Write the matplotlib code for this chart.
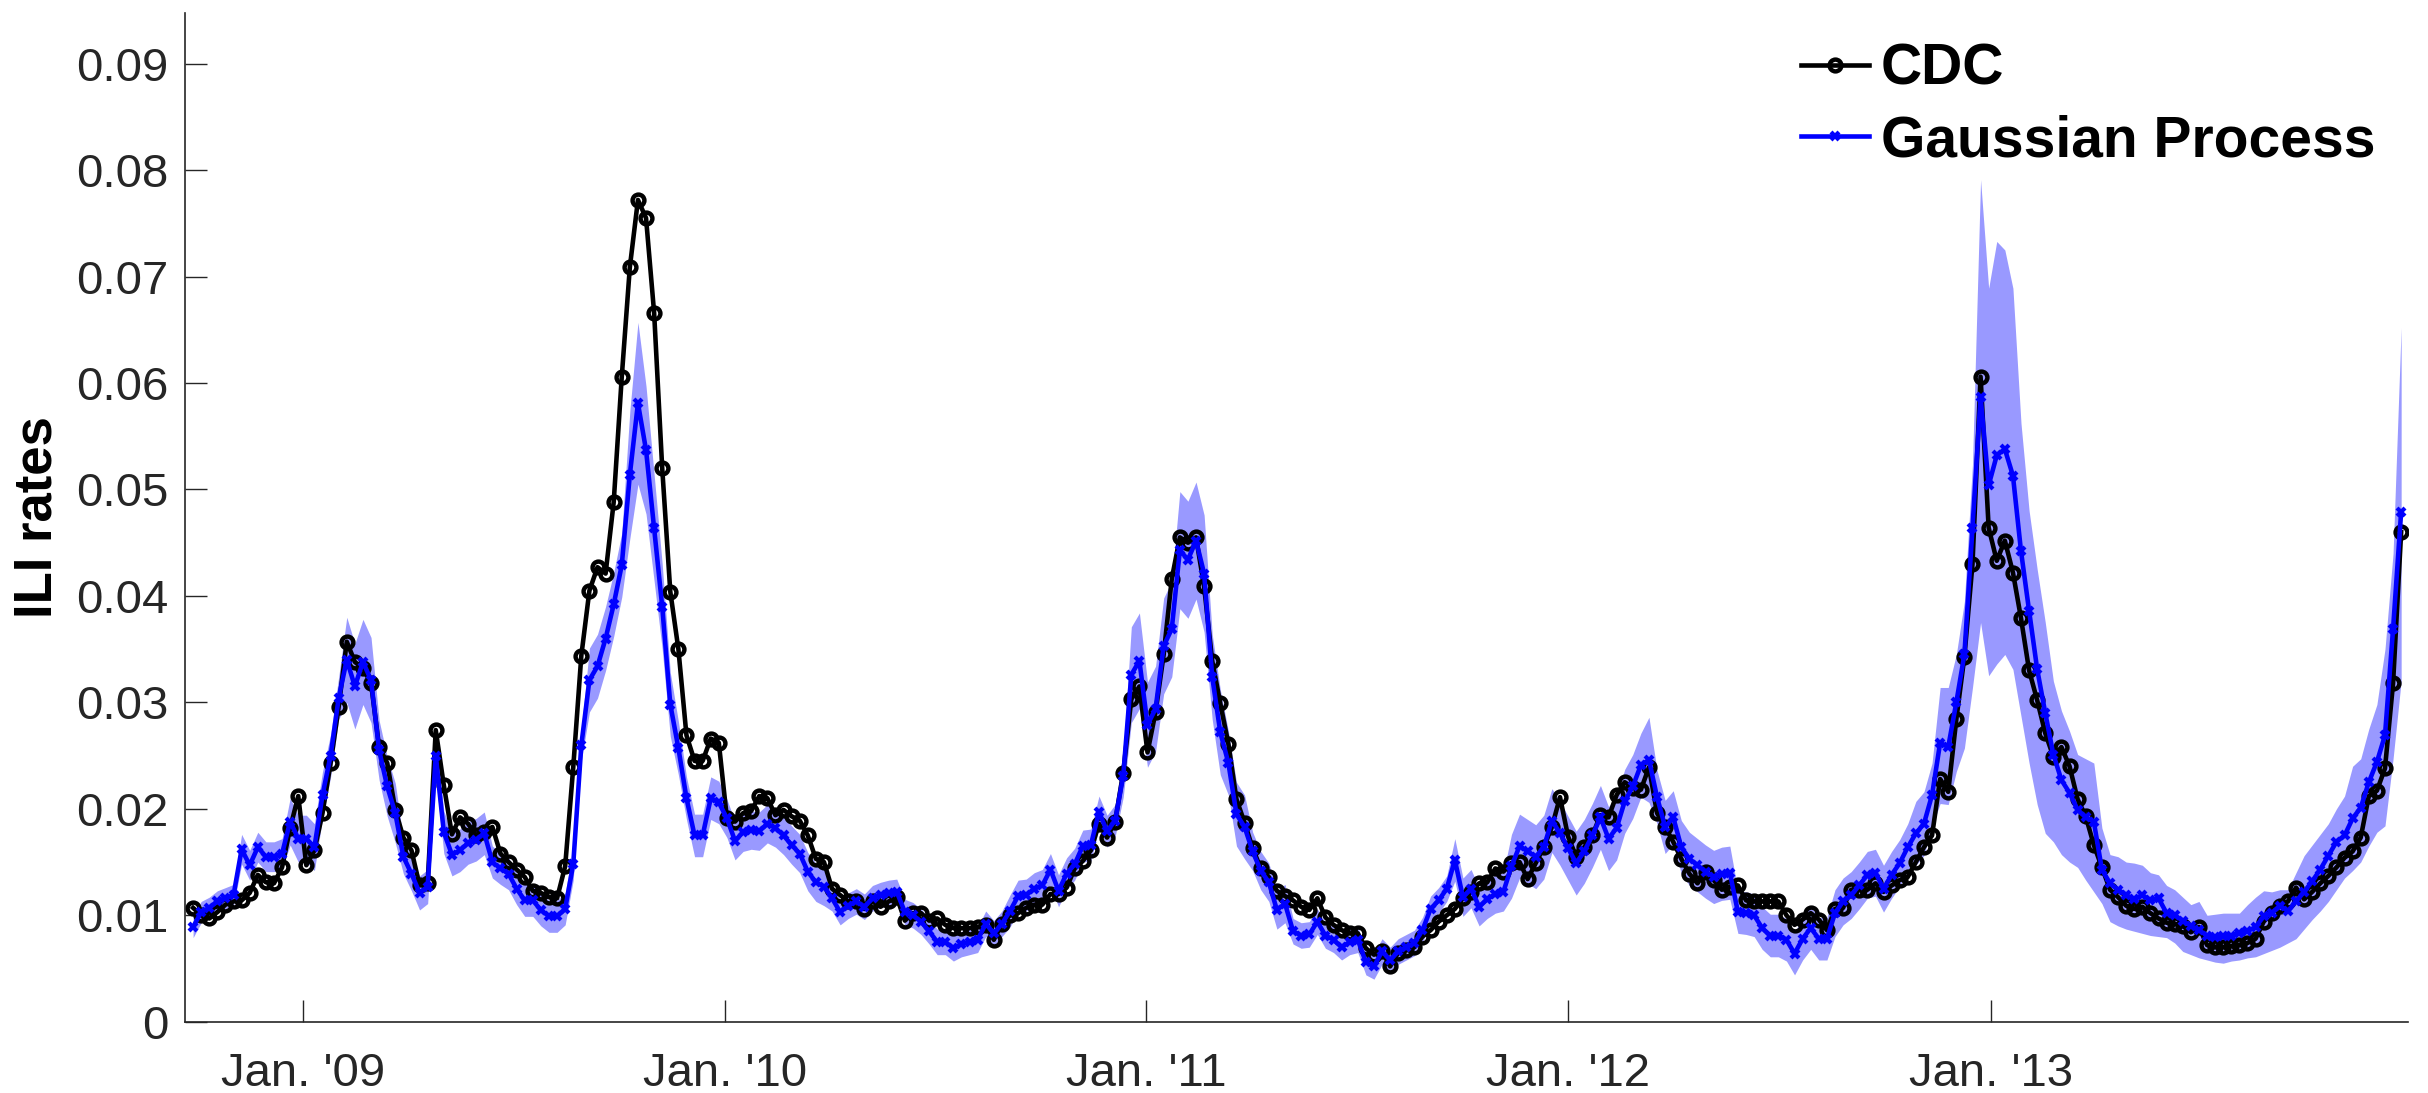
import numpy as np
import pandas as pd
import matplotlib
matplotlib.use('Agg')
import matplotlib.pyplot as plt

# weekly ILI rates, first week starts 2008-09-28 (MMWR week 40), one value per week
start_week = '2008-09-28'

cdc = [0.0107, 0.0100, 0.0097, 0.0103, 0.0110, 0.0113, 0.0114, 0.0121, 0.0138, 0.0131,
       0.0130, 0.0145, 0.0182, 0.0212, 0.0147, 0.0161, 0.0196, 0.0243, 0.0296, 0.0357,
       0.0338, 0.0332, 0.0318, 0.0258, 0.0243, 0.0199, 0.0173, 0.0161, 0.0128, 0.0130,
       0.0274, 0.0222, 0.0176, 0.0192, 0.0186, 0.0175, 0.0178, 0.0183, 0.0158, 0.0150,
       0.0143, 0.0136, 0.0123, 0.0121, 0.0117, 0.0116, 0.0146, 0.0239, 0.0344, 0.0405,
       0.0427, 0.0421, 0.0488, 0.0606, 0.0709, 0.0772, 0.0755, 0.0666, 0.0520, 0.0404,
       0.0350, 0.0269, 0.0245, 0.0245, 0.0266, 0.0262, 0.0191, 0.0188, 0.0196, 0.0198,
       0.0212, 0.0210, 0.0194, 0.0199, 0.0193, 0.0189, 0.0175, 0.0153, 0.0150, 0.0125,
       0.0119, 0.0113, 0.0113, 0.0106, 0.0113, 0.0108, 0.0113, 0.0117, 0.0095, 0.0102,
       0.0102, 0.0095, 0.0097, 0.0091, 0.0088, 0.0088, 0.0088, 0.0089, 0.0091, 0.0077,
       0.0092, 0.0100, 0.0102, 0.0107, 0.0110, 0.0110, 0.0120, 0.0120, 0.0126, 0.0144,
       0.0151, 0.0161, 0.0186, 0.0173, 0.0188, 0.0234, 0.0303, 0.0315, 0.0253, 0.0291,
       0.0345, 0.0416, 0.0455, 0.0450, 0.0455, 0.0409, 0.0339, 0.0299, 0.0261, 0.0209,
       0.0187, 0.0163, 0.0144, 0.0136, 0.0123, 0.0118, 0.0114, 0.0108, 0.0105, 0.0116,
       0.0098, 0.0091, 0.0086, 0.0083, 0.0083, 0.0069, 0.0063, 0.0066, 0.0052, 0.0065,
       0.0067, 0.0070, 0.0080, 0.0086, 0.0094, 0.0100, 0.0106, 0.0116, 0.0122, 0.0130,
       0.0131, 0.0144, 0.0141, 0.0149, 0.0150, 0.0134, 0.0149, 0.0164, 0.0183, 0.0211,
       0.0174, 0.0155, 0.0164, 0.0175, 0.0194, 0.0192, 0.0213, 0.0225, 0.0220, 0.0218,
       0.0239, 0.0196, 0.0183, 0.0169, 0.0153, 0.0139, 0.0130, 0.0141, 0.0133, 0.0124,
       0.0127, 0.0128, 0.0114, 0.0113, 0.0113, 0.0113, 0.0113, 0.0100, 0.0091, 0.0096,
       0.0102, 0.0096, 0.0086, 0.0106, 0.0107, 0.0124, 0.0124, 0.0124, 0.0130, 0.0122,
       0.0128, 0.0133, 0.0136, 0.0150, 0.0164, 0.0175, 0.0228, 0.0216, 0.0284, 0.0343,
       0.0430, 0.0606, 0.0464, 0.0433, 0.0452, 0.0422, 0.0379, 0.0330, 0.0302, 0.0271,
       0.0249, 0.0258, 0.0240, 0.0209, 0.0193, 0.0166, 0.0145, 0.0124, 0.0117, 0.0109,
       0.0106, 0.0108, 0.0102, 0.0097, 0.0093, 0.0092, 0.0090, 0.0084, 0.0089, 0.0072,
       0.0070, 0.0070, 0.0071, 0.0072, 0.0074, 0.0078, 0.0094, 0.0102, 0.0109, 0.0113,
       0.0126, 0.0115, 0.0122, 0.0130, 0.0137, 0.0145, 0.0154, 0.0160, 0.0173, 0.0212,
       0.0217, 0.0238, 0.0318, 0.0460]

gp = [0.0089, 0.0103, 0.0107, 0.0113, 0.0116, 0.0119, 0.0162, 0.0147, 0.0164, 0.0155,
      0.0155, 0.0158, 0.0188, 0.0172, 0.0172, 0.0164, 0.0213, 0.0250, 0.0304, 0.0340,
      0.0315, 0.0338, 0.0321, 0.0255, 0.0221, 0.0196, 0.0155, 0.0139, 0.0121, 0.0127,
      0.0250, 0.0178, 0.0157, 0.0161, 0.0168, 0.0171, 0.0177, 0.0150, 0.0144, 0.0139,
      0.0125, 0.0114, 0.0114, 0.0105, 0.0099, 0.0099, 0.0106, 0.0148, 0.0260, 0.0321,
      0.0334, 0.0360, 0.0392, 0.0429, 0.0514, 0.0581, 0.0537, 0.0464, 0.0390, 0.0298,
      0.0257, 0.0210, 0.0175, 0.0175, 0.0210, 0.0206, 0.0191, 0.0170, 0.0178, 0.0180,
      0.0179, 0.0186, 0.0182, 0.0175, 0.0166, 0.0158, 0.0141, 0.0131, 0.0127, 0.0116,
      0.0103, 0.0109, 0.0113, 0.0108, 0.0116, 0.0119, 0.0121, 0.0122, 0.0103, 0.0100,
      0.0094, 0.0085, 0.0075, 0.0075, 0.0069, 0.0073, 0.0075, 0.0077, 0.0092, 0.0083,
      0.0092, 0.0104, 0.0118, 0.0119, 0.0125, 0.0128, 0.0143, 0.0123, 0.0139, 0.0148,
      0.0165, 0.0166, 0.0197, 0.0179, 0.0189, 0.0231, 0.0326, 0.0339, 0.0279, 0.0294,
      0.0353, 0.0369, 0.0443, 0.0434, 0.0452, 0.0421, 0.0324, 0.0272, 0.0243, 0.0195,
      0.0183, 0.0160, 0.0142, 0.0131, 0.0105, 0.0111, 0.0085, 0.0081, 0.0082, 0.0094,
      0.0081, 0.0077, 0.0070, 0.0075, 0.0077, 0.0056, 0.0052, 0.0066, 0.0058, 0.0066,
      0.0070, 0.0074, 0.0086, 0.0106, 0.0114, 0.0125, 0.0152, 0.0117, 0.0125, 0.0108,
      0.0115, 0.0120, 0.0122, 0.0146, 0.0165, 0.0160, 0.0155, 0.0164, 0.0189, 0.0177,
      0.0163, 0.0149, 0.0160, 0.0175, 0.0192, 0.0172, 0.0182, 0.0207, 0.0221, 0.0241,
      0.0246, 0.0211, 0.0183, 0.0192, 0.0164, 0.0153, 0.0147, 0.0141, 0.0136, 0.0139,
      0.0140, 0.0103, 0.0102, 0.0100, 0.0088, 0.0081, 0.0081, 0.0077, 0.0064, 0.0078,
      0.0088, 0.0078, 0.0078, 0.0102, 0.0113, 0.0119, 0.0128, 0.0138, 0.0140, 0.0125,
      0.0138, 0.0149, 0.0164, 0.0177, 0.0186, 0.0213, 0.0262, 0.0258, 0.0300, 0.0345,
      0.0464, 0.0587, 0.0504, 0.0532, 0.0538, 0.0513, 0.0442, 0.0386, 0.0331, 0.0290,
      0.0251, 0.0227, 0.0215, 0.0199, 0.0192, 0.0188, 0.0143, 0.0130, 0.0124, 0.0119,
      0.0115, 0.0119, 0.0114, 0.0116, 0.0102, 0.0100, 0.0095, 0.0090, 0.0086, 0.0081,
      0.0080, 0.0081, 0.0081, 0.0083, 0.0085, 0.0089, 0.0099, 0.0102, 0.0109, 0.0104,
      0.0113, 0.0122, 0.0132, 0.0143, 0.0156, 0.0169, 0.0175, 0.0191, 0.0201, 0.0225,
      0.0244, 0.0269, 0.0369, 0.0479]

# half width of the GP band, weeks 0..215 (roughly symmetric there)
band_sym = [0.0010, 0.0010, 0.0010, 0.0010, 0.0010, 0.0010, 0.0014, 0.0014, 0.0014, 0.0014,
            0.0014, 0.0014, 0.0022, 0.0022, 0.0022, 0.0022, 0.0022, 0.0020, 0.0020, 0.0040,
            0.0040, 0.0040, 0.0040, 0.0028, 0.0028, 0.0028, 0.0016, 0.0016, 0.0016, 0.0016,
            0.0020, 0.0020, 0.0020, 0.0020, 0.0020, 0.0020, 0.0020, 0.0015, 0.0015, 0.0015,
            0.0015, 0.0015, 0.0015, 0.0015, 0.0015, 0.0015, 0.0015, 0.0015, 0.0015, 0.0030,
            0.0030, 0.0030, 0.0030, 0.0030, 0.0060, 0.0076, 0.0060, 0.0050, 0.0040, 0.0030,
            0.0025, 0.0020, 0.0020, 0.0020, 0.0020, 0.0020, 0.0018, 0.0018, 0.0018, 0.0018,
            0.0018, 0.0018, 0.0018, 0.0018, 0.0018, 0.0018, 0.0018, 0.0018, 0.0018, 0.0012,
            0.0012, 0.0012, 0.0012, 0.0012, 0.0012, 0.0012, 0.0012, 0.0012, 0.0012, 0.0012,
            0.0012, 0.0012, 0.0012, 0.0012, 0.0012, 0.0012, 0.0012, 0.0012, 0.0012, 0.0012,
            0.0012, 0.0015, 0.0015, 0.0015, 0.0015, 0.0015, 0.0015, 0.0015, 0.0015, 0.0015,
            0.0015, 0.0015, 0.0015, 0.0015, 0.0015, 0.0020, 0.0045, 0.0045, 0.0040, 0.0040,
            0.0045, 0.0045, 0.0055, 0.0055, 0.0055, 0.0055, 0.0040, 0.0040, 0.0030, 0.0030,
            0.0030, 0.0018, 0.0018, 0.0018, 0.0018, 0.0018, 0.0012, 0.0012, 0.0012, 0.0012,
            0.0012, 0.0012, 0.0012, 0.0012, 0.0012, 0.0012, 0.0012, 0.0012, 0.0012, 0.0012,
            0.0012, 0.0012, 0.0012, 0.0012, 0.0012, 0.0012, 0.0020, 0.0018, 0.0018, 0.0018,
            0.0018, 0.0018, 0.0018, 0.0030, 0.0030, 0.0030, 0.0030, 0.0030, 0.0030, 0.0030,
            0.0030, 0.0030, 0.0030, 0.0030, 0.0030, 0.0030, 0.0030, 0.0030, 0.0030, 0.0030,
            0.0040, 0.0025, 0.0025, 0.0025, 0.0025, 0.0025, 0.0025, 0.0025, 0.0025, 0.0025,
            0.0025, 0.0020, 0.0020, 0.0020, 0.0020, 0.0020, 0.0020, 0.0020, 0.0020, 0.0020,
            0.0020, 0.0020, 0.0020, 0.0022, 0.0022, 0.0022, 0.0022, 0.0022, 0.0022, 0.0022,
            0.0022, 0.0022, 0.0022, 0.0030, 0.0030, 0.0030]

# weeks 216..273, band is lopsided around the 2013 season
tail_below = [0.0057, 0.0054, 0.0065, 0.0088,
              0.0150, 0.0212, 0.0179, 0.0196, 0.0193, 0.0182, 0.0155, 0.0143, 0.0127, 0.0113,
              0.0082, 0.0070, 0.0065, 0.0054, 0.0059, 0.0066, 0.0032, 0.0036, 0.0034, 0.0032,
              0.0030, 0.0036, 0.0033, 0.0036, 0.0023, 0.0026, 0.0029, 0.0027, 0.0026, 0.0023,
              0.0024, 0.0026, 0.0024, 0.0025, 0.0025, 0.0028, 0.0035, 0.0035, 0.0039, 0.0030,
              0.0035, 0.0035, 0.0036, 0.0039, 0.0043, 0.0045, 0.0040, 0.0049, 0.0051, 0.0060,
              0.0066, 0.0085, 0.0122, 0.0159]
tail_above = [0.0052, 0.0056, 0.0045, 0.0050,
              0.0060, 0.0204, 0.0185, 0.0201, 0.0187, 0.0176, 0.0120, 0.0094, 0.0094, 0.0085,
              0.0069, 0.0065, 0.0058, 0.0052, 0.0055, 0.0055, 0.0039, 0.0027, 0.0031, 0.0031,
              0.0034, 0.0028, 0.0026, 0.0022, 0.0026, 0.0024, 0.0022, 0.0020, 0.0027, 0.0019,
              0.0021, 0.0021, 0.0021, 0.0019, 0.0025, 0.0028, 0.0024, 0.0020, 0.0015, 0.0020,
              0.0027, 0.0034, 0.0034, 0.0033, 0.0030, 0.0031, 0.0037, 0.0049, 0.0046, 0.0050,
              0.0054, 0.0081, 0.0071, 0.0173]

tick_dates = ['2009-01-01', '2010-01-01', '2011-01-01', '2012-01-01', '2013-01-01']
tick_labels = ["Jan. '09", "Jan. '10", "Jan. '11", "Jan. '12", "Jan. '13"]


weeks = pd.date_range(start_week, periods=len(cdc), freq='7D')
cdc = np.array(cdc)
gp = np.array(gp)
gp_lo = gp - np.array(band_sym + tail_below)
gp_hi = gp + np.array(band_sym + tail_above)

plt.rcParams['font.family'] = ['Liberation Sans', 'DejaVu Sans']
grey = '#262626'

fig = plt.figure(figsize=(24.28, 10.93), dpi=100)
ax = fig.add_axes([0.0762, 0.0652, 0.9156, 0.9233])

ax.fill_between(weeks, gp_lo, gp_hi, color='#9999ff', lw=0)
ax.plot(weeks, cdc, '-o', color='k', lw=3.3, ms=8.5, mew=3.2, mfc='none', label='CDC')
ax.plot(weeks, gp, '-x', color='#0000ff', lw=3.3, ms=5.5, mew=3, label='Gaussian Process')

ax.set_xlim(pd.Timestamp('2008-09-21'), pd.Timestamp('2013-12-28'))
ax.set_ylim(0, 0.0948)
ax.set_xticks(pd.to_datetime(tick_dates))
ax.set_xticklabels(tick_labels)
ax.set_yticks(np.arange(0, 0.0901, 0.01))
ax.set_yticklabels(['0'] + ['%.2f' % v for v in np.arange(0.01, 0.0901, 0.01)])

for s in ['top', 'right']:
    ax.spines[s].set_visible(False)
for s in ['left', 'bottom']:
    ax.spines[s].set_color(grey)
    ax.spines[s].set_linewidth(1.2)
ax.tick_params(direction='in', length=16, width=1, color=grey, labelcolor=grey,
               labelsize=34)
ax.tick_params(axis='x', pad=22)
ax.tick_params(axis='y', pad=12)

ax.set_ylabel('ILI rates', fontsize=38, fontweight='bold', labelpad=10)

ax.legend(loc='upper left', bbox_to_anchor=(0.7418, 0.9607), bbox_transform=fig.transFigure,
          frameon=False, prop={'size': 41, 'weight': 'bold'}, handlelength=1.2,
          handletextpad=0.2, labelspacing=0.3, borderpad=0, borderaxespad=0)

fig.savefig('out.png', dpi=100)
